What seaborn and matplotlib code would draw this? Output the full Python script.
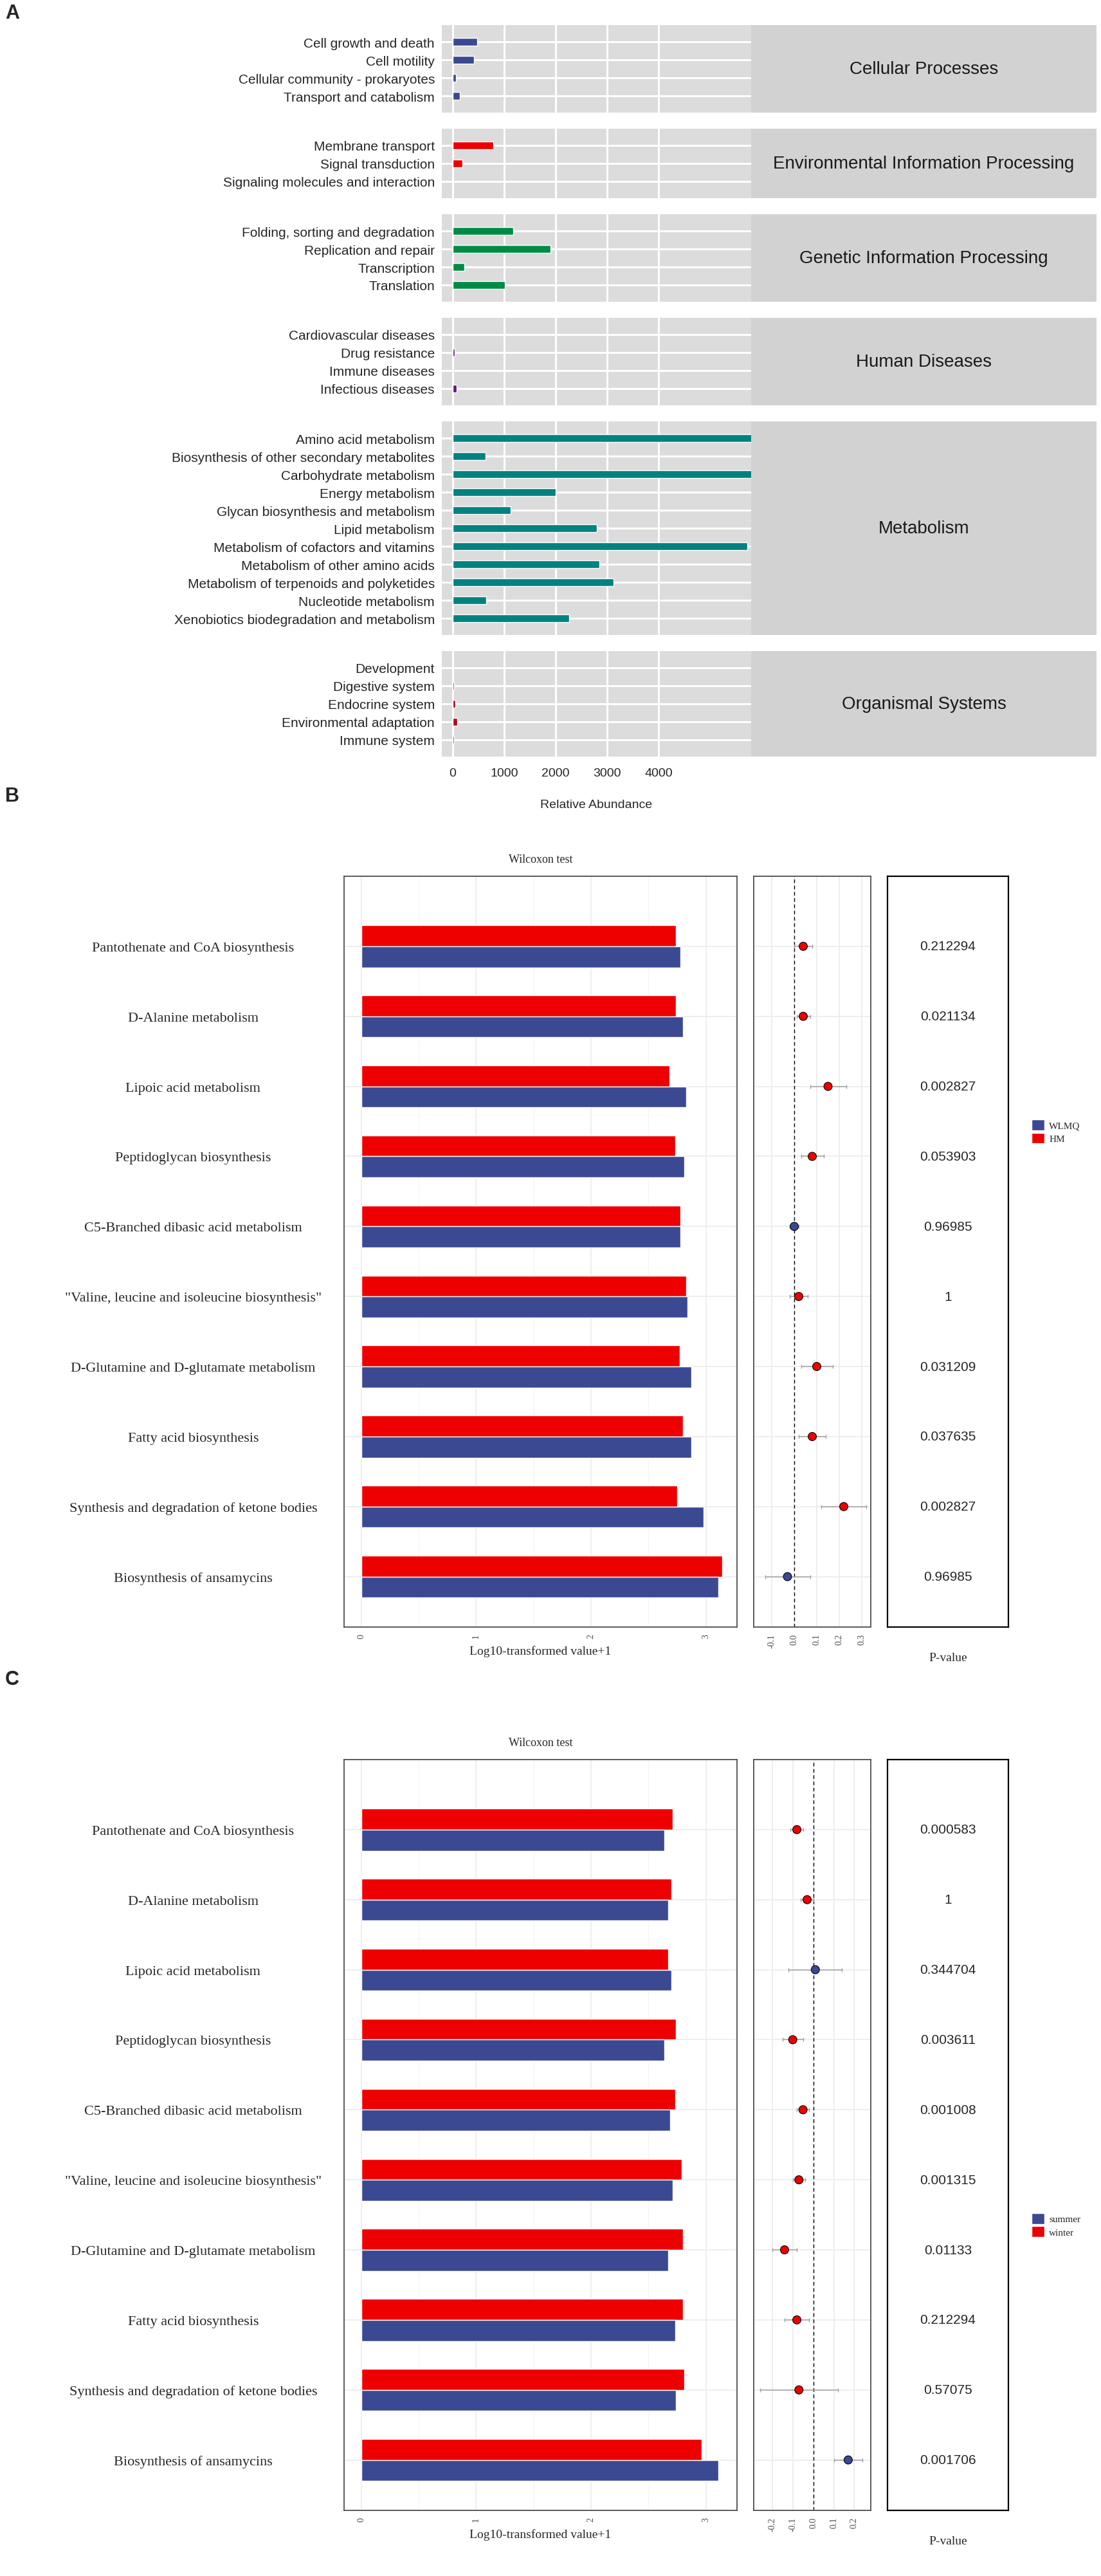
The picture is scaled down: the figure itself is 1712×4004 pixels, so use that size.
import matplotlib
matplotlib.use("Agg")
import matplotlib.pyplot as plt
from matplotlib.patches import Patch
import numpy as np
import pandas as pd
import seaborn as sns

sns.set_style("white")
plt.rcParams["font.family"] = ["Liberation Sans", "DejaVu Sans"]

# ---------------- panel A: KEGG level-2 relative abundance ----------------
a_groups = ["Cellular Processes", "Environmental Information Processing",
            "Genetic Information Processing", "Human Diseases",
            "Metabolism", "Organismal Systems"]
a_colors = ["#3B4992", "#EE0000", "#008B45", "#631879", "#008280", "#BB0021"]

cellular_labels = ["Cell growth and death", "Cell motility",
                   "Cellular community - prokaryotes", "Transport and catabolism"]
cellular_values = [470, 410, 65, 135]

environmental_labels = ["Membrane transport", "Signal transduction",
                        "Signaling molecules and interaction"]
environmental_values = [790, 190, 5]

genetic_labels = ["Folding, sorting and degradation", "Replication and repair",
                  "Transcription", "Translation"]
genetic_values = [1180, 1900, 225, 1010]

human_labels = ["Cardiovascular diseases", "Drug resistance",
                "Immune diseases", "Infectious diseases"]
human_values = [0, 35, 5, 75]

metabolism_labels = ["Amino acid metabolism", "Biosynthesis of other secondary metabolites",
                     "Carbohydrate metabolism", "Energy metabolism",
                     "Glycan biosynthesis and metabolism", "Lipid metabolism",
                     "Metabolism of cofactors and vitamins", "Metabolism of other amino acids",
                     "Metabolism of terpenoids and polyketides", "Nucleotide metabolism",
                     "Xenobiotics biodegradation and metabolism"]
metabolism_values = [6200, 640, 6200, 2000, 1130, 2800, 5720, 2850, 3120, 650, 2260]

organismal_labels = ["Development", "Digestive system", "Endocrine system",
                     "Environmental adaptation", "Immune system"]
organismal_values = [0, 20, 55, 90, 20]

a_ticks = [0, 1000, 2000, 3000, 4000]

# ---------------- panels B and C: Wilcoxon comparisons ----------------
pathways = ["Pantothenate and CoA biosynthesis", "D-Alanine metabolism",
            "Lipoic acid metabolism", "Peptidoglycan biosynthesis",
            "C5-Branched dibasic acid metabolism",
            "\"Valine, leucine and isoleucine biosynthesis\"",
            "D-Glutamine and D-glutamate metabolism", "Fatty acid biosynthesis",
            "Synthesis and degradation of ketone bodies", "Biosynthesis of ansamycins"]

b_wlmq = [2.78, 2.80, 2.83, 2.81, 2.78, 2.84, 2.87, 2.87, 2.98, 3.11]
b_hm = [2.74, 2.74, 2.68, 2.73, 2.78, 2.83, 2.77, 2.80, 2.75, 3.14]
b_diff = [0.04, 0.04, 0.15, 0.08, 0.00, 0.02, 0.10, 0.08, 0.22, -0.03]
b_low = [0.00, 0.01, 0.07, 0.03, -0.02, -0.02, 0.03, 0.02, 0.12, -0.13]
b_high = [0.08, 0.07, 0.23, 0.13, 0.02, 0.06, 0.17, 0.14, 0.32, 0.07]
b_pvalues = ["0.212294", "0.021134", "0.002827", "0.053903", "0.96985",
             "1", "0.031209", "0.037635", "0.002827", "0.96985"]

c_summer = [2.64, 2.67, 2.70, 2.64, 2.69, 2.71, 2.67, 2.73, 2.74, 3.11]
c_winter = [2.71, 2.70, 2.67, 2.74, 2.73, 2.79, 2.80, 2.80, 2.81, 2.96]
c_diff = [-0.08, -0.03, 0.01, -0.10, -0.05, -0.07, -0.14, -0.08, -0.07, 0.17]
c_low = [-0.11, -0.06, -0.12, -0.15, -0.08, -0.10, -0.20, -0.14, -0.26, 0.10]
c_high = [-0.05, 0.00, 0.14, -0.05, -0.02, -0.04, -0.08, -0.02, 0.12, 0.24]
c_pvalues = ["0.000583", "1", "0.344704", "0.003611", "0.001008",
             "0.001315", "0.01133", "0.212294", "0.57075", "0.001706"]

BLUE, RED = "#3B4992", "#EE0000"
SERIF = ["Liberation Serif", "DejaVu Serif"]

W, H = 1712, 4005
fig = plt.figure(figsize=(W / 100, H / 100), dpi=100)


def add_box(x0, y0, x1, y1):
    # pixel box (from top-left) -> figure axes
    return fig.add_axes([x0 / W, 1 - y1 / H, (x1 - x0) / W, (y1 - y0) / H])


# ---------------- panel A ----------------
facets = [
    (a_groups[0], cellular_labels, cellular_values, a_colors[0]),
    (a_groups[1], environmental_labels, environmental_values, a_colors[1]),
    (a_groups[2], genetic_labels, genetic_values, a_colors[2]),
    (a_groups[3], human_labels, human_values, a_colors[3]),
    (a_groups[4], metabolism_labels, metabolism_values, a_colors[4]),
    (a_groups[5], organismal_labels, organismal_values, a_colors[5]),
]
a_top, a_gap, row_px, pad_px = 40, 25, 28.0, 26.0
a_left, a_right, strip_right = 687, 1168, 1705
pad_u = pad_px / row_px

y = a_top
for i, (group, labels, values, color) in enumerate(facets):
    h = (len(labels) - 1) * row_px + 2 * pad_px
    ax = add_box(a_left, y, a_right, y + h)
    df = pd.DataFrame({"pathway": labels, "abundance": values})
    sns.barplot(data=df, x="abundance", y="pathway", color=color,
                saturation=1, width=0.45, ax=ax, zorder=3)
    ax.set_facecolor("#DCDCDC")
    ax.set_xlim(-212, 5800)
    ax.set_ylim(len(labels) - 1 + pad_u, -pad_u)
    ax.set_xticks(a_ticks)
    ax.grid(True, color="white", lw=2.2, zorder=0)
    ax.set_axisbelow(True)
    for s in ax.spines.values():
        s.set_visible(False)
    ax.set_xlabel("")
    ax.set_ylabel("")
    ax.tick_params(axis="y", length=5, width=2, color="black", labelsize=15, pad=3)
    if i == len(facets) - 1:
        ax.set_xticklabels([str(t) for t in a_ticks])
        ax.tick_params(axis="x", length=6, width=2, color="black", labelsize=14, pad=6)
    else:
        ax.tick_params(axis="x", length=0, labelbottom=False)

    sax = add_box(a_right, y, strip_right, y + h)
    sax.set_facecolor("#D2D2D2")
    sax.set_xticks([])
    sax.set_yticks([])
    for s in sax.spines.values():
        s.set_visible(False)
    sax.text(0.5, 0.5, group, ha="center", va="center", fontsize=20,
             color="#1A1A1A", transform=sax.transAxes)
    y += h + a_gap

fig.text((a_left + a_right) / 2 / W, 1 - 1252 / H, "Relative Abundance",
         ha="center", va="center", fontsize=14)
fig.text(8 / W, 1 - 6 / H, "A", ha="left", va="top", fontsize=22, fontweight="bold")


# ---------------- panels B / C ----------------
def draw_compare(top, letter, blue_name, blue_vals, red_name, red_vals,
                 diffs, lows, highs, pvals, dot_lim, dot_ticks, legend_frac):
    n = len(pathways)
    bottom = top + 1167
    rows = np.arange(n)
    ylim = (n - 1 + 0.72, -1.0)

    fig.text(8 / W, 1 - (top - 140) / H, letter, ha="left", va="top",
             fontsize=22, fontweight="bold")
    fig.text((535 + 1146) / 2 / W, 1 - (top - 26) / H, "Wilcoxon test",
             ha="center", va="center", fontsize=13, family=SERIF)

    # bar panel
    bax = add_box(535, top, 1146, bottom)
    df = pd.DataFrame({"pathway": pathways * 2,
                       "group": [red_name] * n + [blue_name] * n,
                       "value": red_vals + blue_vals})
    sns.barplot(data=df, x="value", y="pathway", hue="group",
                hue_order=[red_name, blue_name],
                palette={red_name: RED, blue_name: BLUE},
                width=0.6, saturation=1, legend=False, ax=bax, zorder=3)
    bax.set_ylim(*ylim)
    bax.set_xlim(-0.15, 3.27)
    bax.set_xticks([0, 1, 2, 3])
    bax.set_xticks([0.5, 1.5, 2.5], minor=True)
    bax.set_xticklabels(["0", "1", "2", "3"], rotation=90, family=SERIF)
    bax.set_yticks(rows)
    bax.set_yticklabels(pathways, ha="center", family=SERIF, fontsize=16)
    bax.tick_params(axis="y", length=4, width=1, color="#555555", pad=165)
    bax.tick_params(axis="x", which="both", length=4, width=1, color="#555555",
                    labelsize=10, labelcolor="#4D4D4D", pad=3)
    bax.tick_params(axis="x", which="minor", length=0)
    bax.grid(True, which="major", color="#EBEBEB", lw=1.2)
    bax.grid(True, which="minor", axis="x", color="#F4F4F4", lw=0.8)
    bax.set_axisbelow(True)
    for s in bax.spines.values():
        s.set_color("#4D4D4D")
        s.set_linewidth(1.3)
    bax.set_xlabel("Log10-transformed value+1", family=SERIF, fontsize=14, labelpad=8)
    bax.set_ylabel("")

    # difference / CI panel
    dax = add_box(1172, top, 1354, bottom)
    ddf = pd.DataFrame({"diff": diffs, "row": rows,
                        "group": [red_name if (d > 0) == (red_name == "HM") else blue_name
                                  for d in diffs]})
    dax.errorbar(diffs, rows,
                 xerr=[np.array(diffs) - np.array(lows), np.array(highs) - np.array(diffs)],
                 fmt="none", ecolor="#A0A0A0", elinewidth=1.1, capsize=2, zorder=2)
    sns.scatterplot(data=ddf, x="diff", y="row", hue="group",
                    palette={red_name: RED, blue_name: BLUE}, s=85,
                    edgecolor="black", linewidth=0.8, legend=False, ax=dax, zorder=4)
    dax.axvline(0, color="black", lw=1, ls=(0, (4, 3)), zorder=1)
    dax.set_ylim(*ylim)
    dax.set_xlim(*dot_lim)
    dax.set_xticks(dot_ticks)
    dax.set_xticklabels(["%.1f" % t for t in dot_ticks], rotation=90, family=SERIF)
    dax.set_yticks(rows)
    dax.tick_params(axis="y", length=0, labelleft=False)
    dax.tick_params(axis="x", length=4, width=1, color="#555555",
                    labelsize=10, labelcolor="#4D4D4D", pad=3)
    dax.grid(True, color="#EBEBEB", lw=1.2)
    dax.set_axisbelow(True)
    for s in dax.spines.values():
        s.set_color("#4D4D4D")
        s.set_linewidth(1.3)
    dax.set_xlabel("")
    dax.set_ylabel("")

    # p-value panel
    pax = add_box(1380, top, 1568, bottom)
    pax.set_ylim(*ylim)
    pax.set_xlim(0, 1)
    pax.set_xticks([])
    pax.set_yticks([])
    for s in pax.spines.values():
        s.set_color("black")
        s.set_linewidth(1.6)
    for r, p in zip(rows, pvals):
        pax.text(0.5, r, p, ha="center", va="center", fontsize=15)
    pax.set_xlabel("P-value", family=SERIF, fontsize=14, labelpad=28)

    handles = [Patch(facecolor=BLUE, label=blue_name), Patch(facecolor=RED, label=red_name)]
    fig.legend(handles=handles, loc="center left",
               bbox_to_anchor=(1590 / W, 1 - (top + legend_frac * (bottom - top)) / H),
               frameon=False, prop={"family": SERIF, "size": 11},
               handlelength=1.3, handleheight=1.3, handletextpad=0.5,
               labelspacing=0.25)


draw_compare(1363, "B", "WLMQ", b_wlmq, "HM", b_hm, b_diff, b_low, b_high,
             b_pvalues, (-0.18, 0.34), [-0.1, 0.0, 0.1, 0.2, 0.3], 0.34)
draw_compare(2736, "C", "summer", c_summer, "winter", c_winter, c_diff, c_low, c_high,
             c_pvalues, (-0.29, 0.28), [-0.2, -0.1, 0.0, 0.1, 0.2], 0.62)

fig.savefig("out.png", dpi=100)
